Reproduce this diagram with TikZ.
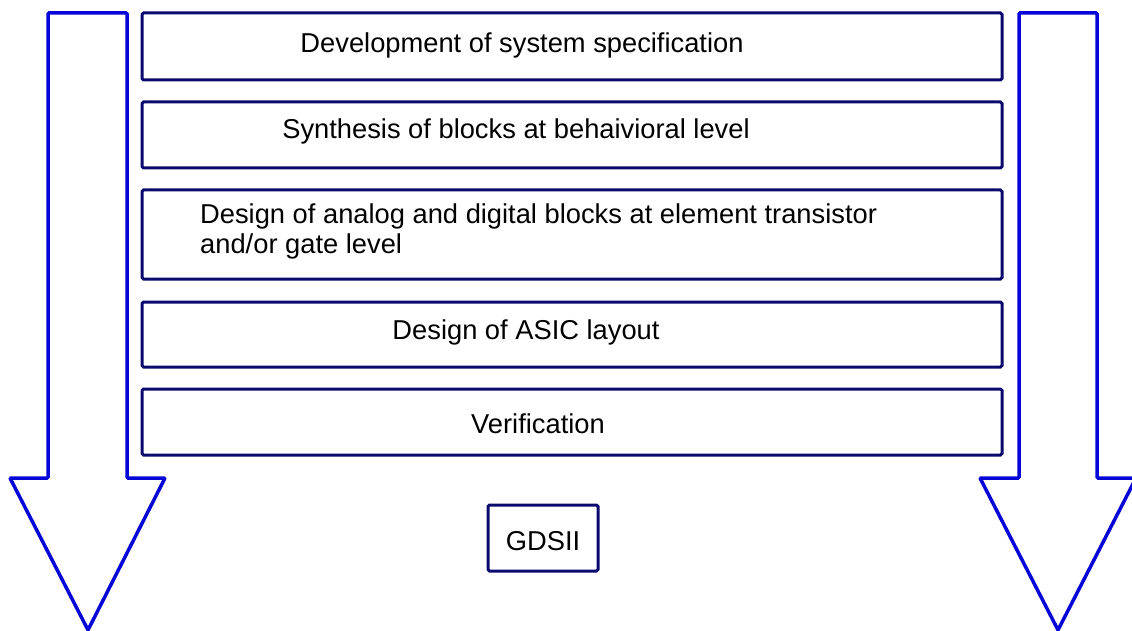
\documentclass[tikz,border=0pt]{standalone}
\usepackage{fontspec}
\setmainfont{Liberation Sans}
\begin{document}
\begin{tikzpicture}[x=1pt,y=-1pt,
  stage/.style={draw=navyline,line width=3pt,rounded corners=1.5pt},
  flow/.style={draw=arrowblue,line width=3.5pt,line join=miter,rounded corners=1pt},
  label/.style={font=\fontsize{27.3}{30}\selectfont,inner sep=0pt}]
\definecolor{navyline}{RGB}{10,10,110}
\definecolor{arrowblue}{RGB}{5,5,215}
\useasboundingbox (0,0) rectangle (1132,631);
% downward arrows on both sides
\draw[flow] (48,13) -- (127,13) -- (127,478) -- (165,478) -- (88,630) -- (10,478) -- (48,478) -- cycle;
\draw[flow] (1019,13) -- (1097,13) -- (1097,478) -- (1136,478) -- (1058,630) -- (980,478) -- (1019,478) -- cycle;
% design stages
\draw[stage] (142,13) rectangle (1002,80);
\draw[stage] (142,102) rectangle (1002,168);
\draw[stage] (142,190) rectangle (1002,279);
\draw[stage] (142,302) rectangle (1002,367);
\draw[stage] (142,389) rectangle (1002,455);
\draw[stage] (488,505) rectangle (598,571);
\node[label] (s1) at (522,45) {Development of system specification};
\node[label] (s2) at (516,131) {Synthesis of blocks at behaivioral level};
\node[label,anchor=west,align=left] (s3) at (200,231) {Design of analog and digital blocks at element transistor\\and/or gate level};
\node[label] (s4) at (526,332) {Design of ASIC layout};
\node[label] (s5) at (538,424) {Verification};
\node[label] (out) at (543,541) {GDSII};
\end{tikzpicture}
\end{document}
